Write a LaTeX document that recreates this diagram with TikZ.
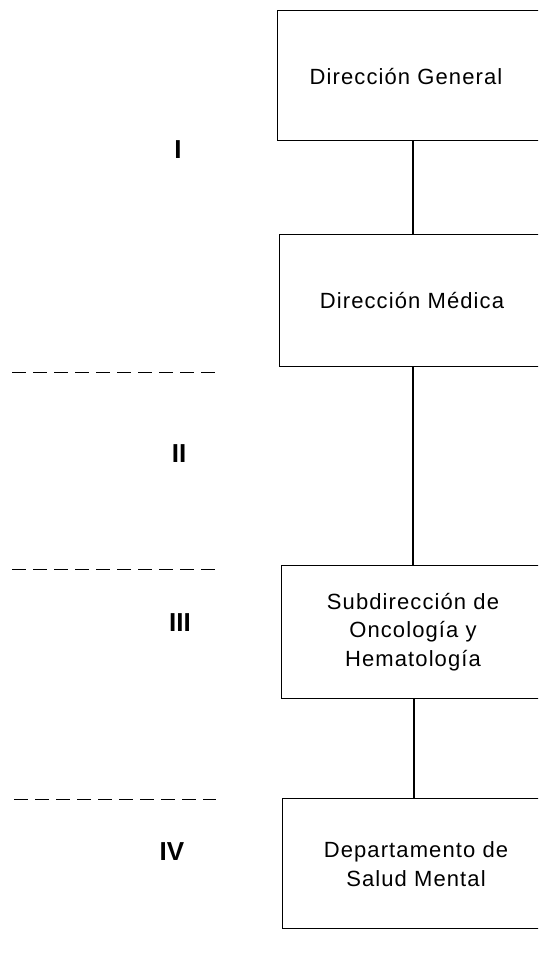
\documentclass[tikz,border=0pt]{standalone}
\usepackage{fontspec}
\setmainfont{Liberation Sans}[LetterSpace=5]
\newfontfamily\numfont{Liberation Sans}
\begin{document}
\begin{tikzpicture}[x=1pt,y=-1pt,
  box/.style={draw,line width=1.4pt,minimum width=275pt,anchor=north west,inner sep=0pt},
  txt/.style={inner sep=0pt,align=center,font=\fontsize{22}{28.7}\selectfont},
  lvl/.style={font=\numfont\bfseries\fontsize{26}{28}\selectfont,inner sep=0pt},
  sep/.style={line width=1pt,dash pattern=on 14pt off 7pt},
  conn/.style={line width=1.4pt}]
\useasboundingbox (0,0) rectangle (538,957);
\clip (0,0) rectangle (538,957);
\node[box,minimum height=130pt] (b1) at (277,10) {};
\node[box,minimum height=132pt] (b2) at (279,234) {};
\node[box,minimum height=133pt] (b3) at (281,565) {};
\node[box,minimum height=130pt] (b4) at (282,798) {};
\node[txt] (t1) at (406,77) {Dirección General};
\node[txt] (t2) at (412,301) {Dirección Médica};
\node[txt] (t3) at (413,632) {Subdirección de\\Oncología y\\Hematología};
\node[txt] (t4) at (416,864) {Departamento de\\Salud Mental};
\draw[conn] (b1.south -| 413,0) -- (b2.north -| 413,0);
\draw[conn] (b2.south -| 413,0) -- (b3.north -| 413,0);
\draw[conn] (b3.south -| 414,0) -- (b4.north -| 414,0);
\node[lvl] (l1) at (178,150) {I};
\node[lvl] (l2) at (179,454) {II};
\node[lvl] (l3) at (180,623) {III};
\node[lvl] (l4) at (172,852) {IV};
\coordinate (d1a) at (12,372); \coordinate (d1b) at (215,372);
\coordinate (d2a) at (12,569); \coordinate (d2b) at (215,569);
\coordinate (d3a) at (14,799); \coordinate (d3b) at (216,799);
\draw[sep] (d1a) -- (d1b);
\draw[sep] (d2a) -- (d2b);
\draw[sep] (d3a) -- (d3b);
\end{tikzpicture}
\end{document}
